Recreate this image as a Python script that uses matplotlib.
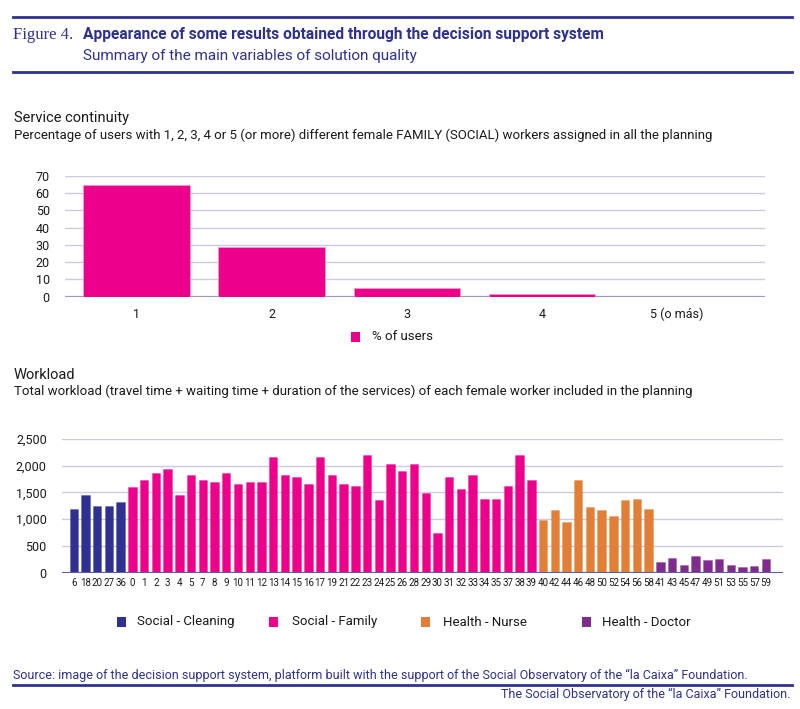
import matplotlib
matplotlib.use("Agg")
import matplotlib.pyplot as plt
from matplotlib import font_manager as fm
from matplotlib.patches import Rectangle
from matplotlib.lines import Line2D

avail = {f.name for f in fm.fontManager.ttflist}
NARROW = 'Liberation Sans Narrow' if 'Liberation Sans Narrow' in avail else 'Roboto'
SANS = 'Roboto'
SERIF = 'Liberation Serif'

# ---- data ----
cont_cats = ["1", "2", "3", "4", "5 (o más)"]
cont_vals = [65, 29, 5, 1.5, 0]
cont_label = "% of users"

cleaning_ids = ["6", "18", "20", "27", "36"]
cleaning_vals = [1200, 1450, 1240, 1245, 1320]
family_ids = ["0", "1", "2", "3", "4", "5", "7", "8", "9", "10", "11", "12", "13", "14", "15",
              "16", "17", "19", "21", "22", "23", "24", "25", "26", "28", "29", "30", "31", "32",
              "33", "34", "35", "37", "38", "39"]
family_vals = [1610, 1735, 1865, 1945, 1450, 1825, 1740, 1695, 1865, 1650, 1700, 1695, 2155,
               1825, 1785, 1655, 2155, 1820, 1655, 1615, 2200, 1365, 2030, 1900, 2030, 1490,
               745, 1785, 1570, 1825, 1370, 1370, 1615, 2205, 1740]
nurse_ids = ["40", "42", "44", "46", "48", "50", "52", "54", "56", "58"]
nurse_vals = [990, 1165, 955, 1740, 1235, 1170, 1060, 1365, 1370, 1185]
doctor_ids = ["41", "43", "45", "47", "49", "51", "53", "55", "57", "59"]
doctor_vals = [200, 280, 145, 320, 245, 250, 150, 112, 118, 250]
group_names = ["Social - Cleaning", "Social - Family", "Health - Nurse", "Health - Doctor"]

NAVY = "#2E3192"
MAGENTA = "#EC008C"
ORANGE = "#E07F35"
PURPLE = "#7F2C8E"
GRID = "#CBC9E3"
TXT = "#1a1a1a"

W, H = 800, 709
fig = plt.figure(figsize=(W / 100, H / 100), dpi=100)

def fx(px): return px / W
def fy(py): return 1 - py / H

# ---- header ----
fig.add_artist(Line2D([fx(13), fx(792)], [fy(17), fy(17)], color=NAVY, lw=2))
fig.add_artist(Line2D([fx(13), fx(792)], [fy(72), fy(72)], color=NAVY, lw=2))
fig.text(fx(13), fy(35), "Figure 4.", family=SERIF, fontsize=12, color=NAVY, va='center')
fig.text(fx(83), fy(34), "Appearance of some results obtained through the decision support system",
         family=NARROW, fontsize=11.2, fontweight='bold', color=NAVY, va='center')
fig.text(fx(83), fy(56), "Summary of the main variables of solution quality",
         family=NARROW, fontsize=11, color=NAVY, va='center')

# ---- chart 1 ----
fig.text(fx(14), fy(118), "Service continuity", family=SANS, fontsize=10.5, color=TXT, va='center')
fig.text(fx(14), fy(135), "Percentage of users with 1, 2, 3, 4 or 5 (or more) different female FAMILY (SOCIAL) workers assigned in all the planning",
         family=NARROW, fontsize=9.5, color=TXT, va='center')

ax1 = fig.add_axes([fx(65), fy(296.5), fx(765) - fx(65), fy(176) - fy(296.5)])
x1 = list(range(len(cont_cats)))
ax1.bar(x1, cont_vals, width=0.79, color=MAGENTA, edgecolor="#F59ACB", linewidth=0.6, zorder=3)
ax1.set_ylim(0, 70)
ax1.set_xlim(-0.53, 4.65)
ax1.set_yticks(range(0, 71, 10))
ax1.set_xticks(x1)
ax1.set_xticklabels(cont_cats)
ax1.grid(axis='y', color=GRID, lw=1, zorder=0)
for s in ax1.spines.values():
    s.set_visible(False)
ax1.axhline(0, color="#9A9AC8", lw=1.6, zorder=2)
ax1.tick_params(length=0, labelsize=9, pad=11, colors=TXT)
ax1.tick_params(axis='x', pad=8)
for t in ax1.get_xticklabels() + ax1.get_yticklabels():
    t.set_family(NARROW)

fig.add_artist(Rectangle((fx(351), fy(342)), fx(9), 10 / H, transform=fig.transFigure,
                         facecolor=MAGENTA, edgecolor='none'))
fig.text(fx(372), fy(337), cont_label, family=NARROW, fontsize=9.5, color=TXT, va='center')

# ---- chart 2 ----
fig.text(fx(14), fy(375), "Workload", family=SANS, fontsize=10.5, color=TXT, va='center')
fig.text(fx(14), fy(391), "Total workload (travel time + waiting time + duration of the services) of each female worker included in the planning",
         family=SANS, fontsize=9.5, color=TXT, va='center')

ax2 = fig.add_axes([fx(62), fy(572.7), fx(783) - fx(62), fy(439) - fy(572.7)])
ids, vals, cols = [], [], []
for gid, gv, gc in [(cleaning_ids, cleaning_vals, NAVY), (family_ids, family_vals, MAGENTA),
                    (nurse_ids, nurse_vals, ORANGE), (doctor_ids, doctor_vals, PURPLE)]:
    ids += gid
    vals += gv
    cols += [gc] * len(gid)
x2 = list(range(len(ids)))
ax2.bar(x2, vals, width=0.72, color=cols, edgecolor=[c + "55" for c in cols], linewidth=0.6, zorder=3)
ax2.set_ylim(0, 2500)
ax2.set_xlim(-1.0, len(ids) + 0.45)
ax2.set_yticks(range(0, 2501, 500))
ax2.set_yticklabels([f"{v:,}" for v in range(0, 2501, 500)])
ax2.set_xticks(x2)
ax2.set_xticklabels(ids)
ax2.grid(axis='y', color=GRID, lw=1, zorder=0)
for s in ax2.spines.values():
    s.set_visible(False)
ax2.axhline(0, color="#5B5BB0", lw=1.5, zorder=4)
ax2.tick_params(length=0, colors=TXT)
ax2.tick_params(axis='y', labelsize=9, pad=11)
ax2.tick_params(axis='x', labelsize=7, pad=4)
for t in ax2.get_xticklabels():
    t.set_family(NARROW)
for t in ax2.get_yticklabels():
    t.set_family(NARROW)

leg_x = [(117, 137), (269, 292), (421, 443), (582, 602)]
for (sx, tx), name, c in zip(leg_x, group_names, [NAVY, MAGENTA, ORANGE, PURPLE]):
    fig.add_artist(Rectangle((fx(sx), fy(627)), fx(9), 10 / H, transform=fig.transFigure,
                             facecolor=c, edgecolor='none'))
    fig.text(fx(tx), fy(622), name, family=NARROW, fontsize=9.5, color=TXT, va='center')

# ---- footer ----
fig.text(fx(13), fy(675), "Source: image of the decision support system, platform built with the support of the Social Observatory of the \u201cla Caixa\u201d Foundation.",
         family=NARROW, fontsize=9, color=NAVY, va='center')
fig.add_artist(Line2D([fx(13), fx(792)], [fy(685), fy(685)], color=NAVY, lw=2))
fig.text(fx(790), fy(694), "The Social Observatory of the \u201cla Caixa\u201d Foundation.",
         family=NARROW, fontsize=9, color=NAVY, va='center', ha='right')

fig.savefig("out.png", dpi=100, facecolor='white')
